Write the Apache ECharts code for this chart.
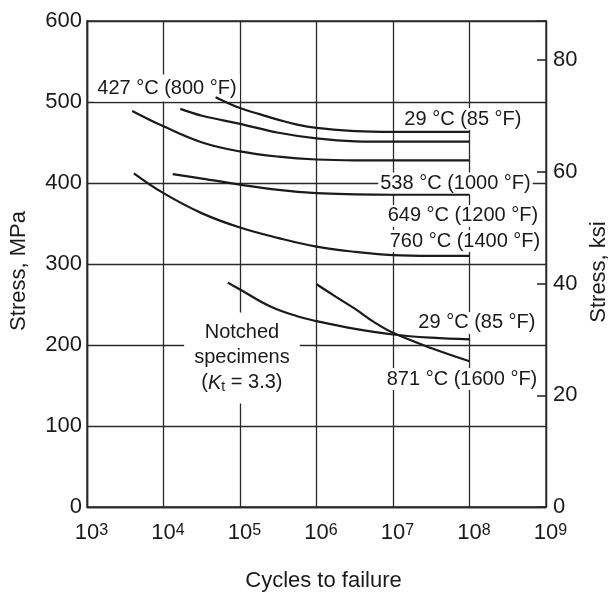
<!DOCTYPE html>
<html>
<head>
<meta charset="utf-8">
<script src="https://cdn.jsdelivr.net/npm/echarts@6/dist/echarts.min.js"></script>
<style>html,body{margin:0;padding:0;background:#fff;}#c{width:610px;height:595px;}</style>
</head>
<body>
<div id="c"></div>
<script>
// Cycles to failure vs stress (MPa)
const s29   = [[4.8e4,506],[1e5,492.5],[1.8e5,485],[3.2e5,478],[5.6e5,472],[1e6,468],[3.2e6,464],[1e7,463],[1e8,463]];
const s427  = [[1.66e4,491.5],[3.2e4,483],[1e5,473],[3.2e5,462],[1e6,455],[3.2e6,451.5],[1e7,451],[1e8,451]];
const s538  = [[3.9e3,489],[1e4,470],[3.2e4,450],[1e5,439],[3.2e5,432.5],[1e6,429],[3.2e6,428],[1e7,428],[1e8,428]];
const s649  = [[1.32e4,411],[3.2e4,405.5],[1e5,398],[3.2e5,391.5],[1e6,387.5],[3.2e6,386],[1e7,385.5],[1e8,385.5]];
const s760  = [[4.1e3,412],[1e4,387.5],[3.2e4,362.5],[1e5,345],[3.2e5,332],[1e6,321.5],[3.2e6,315],[1e7,311],[3.2e7,310],[1e8,310]];
const n29   = [[6.9e4,277],[1e5,268.5],[2.5e5,247.5],[5.6e5,235.5],[1e6,229.5],[3.2e6,220],[1e7,213],[3.2e7,209],[1e8,207]];
const n871  = [[1e6,275],[1.8e6,259.5],[3.2e6,244.5],[5.6e6,228.5],[1e7,215],[3.2e7,196],[1e8,180]];

const yTicksMPa = [0,100,200,300,400,500,600];
const yTicksKsi = [0,20,40,60,80];
const MPA_PER_KSI = 6.89476;

// annotation texts
const annTexts = ['427 °C (800 °F)','29 °C (85 °F)','538 °C (1000 °F)','649 °C (1200 °F)','760 °C (1400 °F)','29 °C (85 °F)','871 °C (1600 °F)'];

const FONT = 'Arial, "Liberation Sans", Helvetica, sans-serif';
const INK = '#1a1a1a';
const GRIDC = '#2a2a2a';

const chart = echarts.init(document.getElementById('c'), null, {renderer:'canvas'});

function curve(name, data){
  return {
    name, type:'line', data, smooth:0.4, symbol:'none',
    lineStyle:{color:INK, width:2.2}, z:3, silent:true
  };
}

// label anchor points (cycles, MPa)
const annAnchor = [[1.11e4,517.3],[8.2e7,479],[6.56e7,399.4],[8.2e7,359.3],[8.73e7,328.4],[1.25e8,227.2],[7.98e7,158]];
const annData = annTexts.map((t,i)=>({value:annAnchor[i], name:t,
  label: i===0 ? {padding:[1,3,6,3]} : undefined}));

const option = {
  backgroundColor:'#fff',
  animation:false,
  grid:{left:87, right:64, top:21, bottom:88, containLabel:false, outerBoundsMode:'none',
    show:true, borderColor:GRIDC, borderWidth:1.3},
  xAxis:{
    type:'log', logBase:10, min:1e3, max:1e9,
    name:'Cycles to failure', nameLocation:'middle', nameGap:63,
    nameTextStyle:{fontFamily:FONT, fontSize:22, color:INK, padding:[0,0,0,14]},
    axisLine:{show:true, lineStyle:{color:GRIDC, width:1.3}},
    axisTick:{show:false},
    axisLabel:{
      margin:15,
      formatter: v => '{b|10}{s|' + Math.round(Math.log10(v)) + '}',
      rich:{
        b:{fontFamily:FONT, fontSize:22, color:INK, padding:[0,0,0,9]},
        s:{fontFamily:FONT, fontSize:16, color:INK, padding:[0,0,4,0]}
      }
    },
    splitLine:{show:true, lineStyle:{color:GRIDC, width:1.3}}
  },
  yAxis:[
    {
      type:'value', min:0, max:600, interval:100, position:'left',
      name:'Stress, MPa', nameLocation:'middle', nameGap:57,
      nameTextStyle:{fontFamily:FONT, fontSize:22, color:INK, padding:[0,14,0,0]},
      axisLine:{show:true, lineStyle:{color:GRIDC, width:1.3}},
      axisTick:{show:false},
      axisLabel:{fontFamily:FONT, fontSize:22, color:INK, margin:5},
      splitLine:{show:true, lineStyle:{color:GRIDC, width:1.3}}
    },
    {
      type:'value', min:0, max:600/MPA_PER_KSI, interval:20, position:'right',
      name:'Stress, ksi', nameLocation:'middle', nameGap:34,
      nameTextStyle:{fontFamily:FONT, fontSize:22, color:INK, padding:[0,16,0,0]},
      axisLine:{show:true, lineStyle:{color:GRIDC, width:1.3}},
      axisTick:{show:true, inside:true, length:9, lineStyle:{color:GRIDC, width:1.6}},
      axisLabel:{fontFamily:FONT, fontSize:22, color:INK, margin:7,
        formatter: v => (yTicksKsi.indexOf(Math.round(v))>=0 && Math.abs(v-Math.round(v))<1e-6) ? String(Math.round(v)) : ''},
      splitLine:{show:false}
    }
  ],
  series:[
    curve('29 °C', s29),
    curve('427 °C', s427),
    curve('538 °C', s538),
    curve('649 °C', s649),
    curve('760 °C', s760),
    curve('29 °C notched', n29),
    curve('871 °C notched', n871),
    {
      type:'scatter', data:annData, symbolSize:0, z:2, silent:true,
      itemStyle:{opacity:1}, emphasis:{disabled:true},
      label:{show:true, position:'inside', formatter:p=>p.name, opacity:1,
        fontFamily:FONT, fontSize:20, color:INK, backgroundColor:'#fff', padding:[1,2]}
    },
    {
      type:'scatter', data:[{value:[1.06e5,184]}], symbolSize:0, z:2, silent:true,
      itemStyle:{opacity:1}, emphasis:{disabled:true},
      label:{show:true, position:'inside', opacity:1,
        formatter:'Notched\nspecimens\n({i|K}{sub|t} = 3.3)',
        fontFamily:FONT, fontSize:20, color:INK, lineHeight:25, align:'center',
        backgroundColor:'#fff', padding:[8,10],
        rich:{
          i:{fontFamily:FONT, fontSize:20, fontStyle:'italic', color:INK, lineHeight:25},
          sub:{fontFamily:FONT, fontSize:14, color:INK, padding:[9,0,0,0], lineHeight:25}
        }
      }
    }
  ]
};
chart.setOption(option);
</script>
</body>
</html>
